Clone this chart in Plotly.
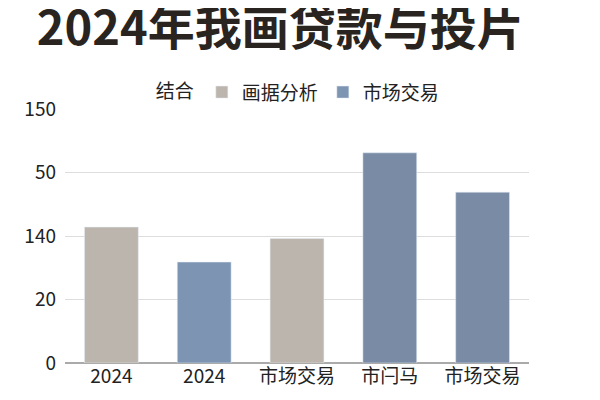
import plotly.graph_objects as go

# category slots and their labels (labels repeat, so slots are numeric)
slots = [0, 1, 2, 3, 4]
x_labels = ['2024', '2024', '市场交易', '市闩马', '市场交易']

# y ticks as printed on the chart
y_tickvals = [0, 1, 2, 3, 4]
y_ticktext = ['0', '20', '140', '50', '150']

# 画据分析 bars
analysis_x = [0, 2]
analysis_y = [2.14, 1.96]

# 市场交易 bars
market_x = [1, 3, 4]
market_y = [1.59, 3.31, 2.69]
market_colors = ['#7d95b3', '#7a8ca5', '#7a8ca5']

FONT = 'Noto Sans CJK SC'

fig = go.Figure()
fig.add_trace(go.Bar(x=analysis_x, y=analysis_y, name='画据分析',
                     marker_color='#bcb5ad', width=0.58))
fig.add_trace(go.Bar(x=market_x, y=market_y, name='市场交易',
                     marker=dict(color=market_colors), width=0.58))

# page body adds an 8px offset, so the figure is a bit smaller
fig.update_layout(
    width=592, height=392,
    margin=dict(l=57, r=71, t=101, b=35),
    paper_bgcolor='white', plot_bgcolor='white',
    barmode='overlay',
    font=dict(family=FONT, color='#222222', size=18),
    title=dict(text='<b>2024年我画贷款与投片</b>', x=0.46, xanchor='center',
               y=0.948, yanchor='middle',
               font=dict(family=FONT, size=47, color='#2a2420')),
    legend=dict(orientation='h', x=0.505, xanchor='center', y=1.066, yanchor='middle',
                title=dict(text='结合', font=dict(size=19)),
                font=dict(size=19), itemwidth=30, traceorder='normal'),
    showlegend=True,
)
fig.update_xaxes(tickvals=slots, ticktext=x_labels, range=[-0.5, 4.5],
                 showgrid=False, zeroline=False, showline=False,
                 tickfont=dict(size=19, color='#222222'), ticks='')
fig.update_yaxes(tickvals=y_tickvals, ticktext=y_ticktext, range=[0, 4],
                 showgrid=True, gridcolor='#dddddd', gridwidth=1,
                 zeroline=True, zerolinecolor='#aaaaaa', zerolinewidth=1.5,
                 tickfont=dict(size=19, color='#222222'), ticks='', ticklabelstandoff=8)

fig.write_html('out.html')
